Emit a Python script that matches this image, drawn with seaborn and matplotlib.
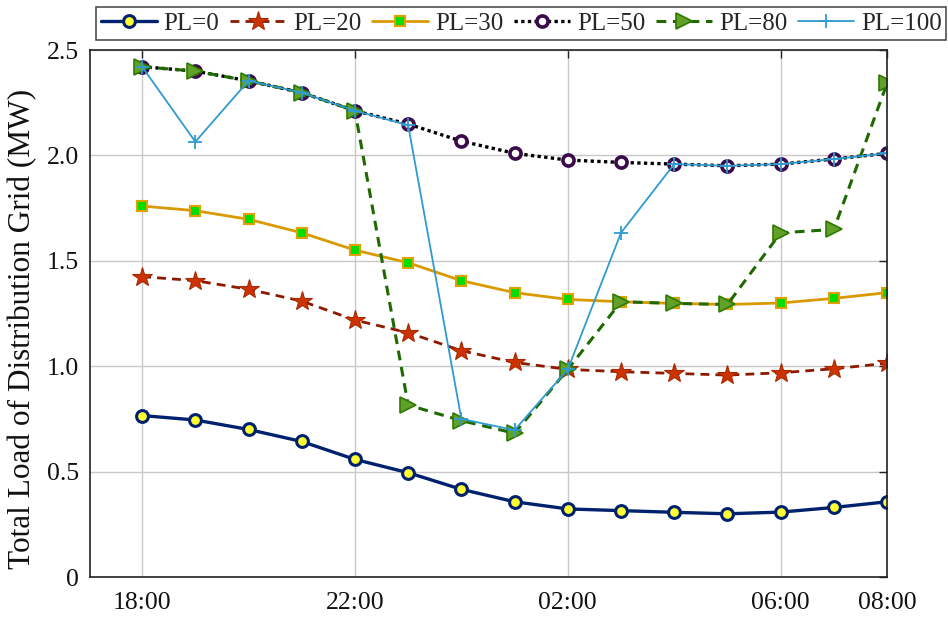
import matplotlib
matplotlib.use("Agg")
import matplotlib.pyplot as plt
import seaborn as sns
import numpy as np
import pandas as pd

hours = ['18:00', '19:00', '20:00', '21:00', '22:00', '23:00', '00:00', '01:00',
         '02:00', '03:00', '04:00', '05:00', '06:00', '07:00', '08:00']
shown_ticks = ['18:00', '22:00', '02:00', '06:00', '08:00']

pl0 = [0.766, 0.745, 0.70, 0.643, 0.558, 0.495, 0.416, 0.357, 0.323, 0.315, 0.307, 0.300, 0.308, 0.330, 0.357]
pl20 = [1.425, 1.406, 1.365, 1.309, 1.219, 1.159, 1.074, 1.018, 0.985, 0.974, 0.966, 0.958, 0.969, 0.988, 1.014]
pl30 = [1.760, 1.738, 1.697, 1.633, 1.551, 1.491, 1.406, 1.349, 1.317, 1.306, 1.298, 1.293, 1.300, 1.322, 1.349]
pl50 = [2.421, 2.400, 2.354, 2.298, 2.212, 2.149, 2.068, 2.010, 1.978, 1.967, 1.959, 1.951, 1.959, 1.983, 2.010]
pl80 = [2.421, 2.400, 2.354, 2.298, 2.212, 0.816, 0.742, 0.682, 0.985, 1.306, 1.298, 1.293, 1.633, 1.649, 2.342]
pl100 = [2.421, 2.065, 2.354, 2.298, 2.212, 2.144, 0.750, 0.697, 0.985, 1.633, 1.959, 1.951, 1.959, 1.983, 2.010]

labels = ['PL=0', 'PL=20', 'PL=30', 'PL=50', 'PL=80', 'PL=100']
series = [pl0, pl20, pl30, pl50, pl80, pl100]

styles = [
    dict(color='#00226e', linestyle='-', linewidth=2.4, marker='o', markersize=8.5,
         markerfacecolor='#ffff33', markeredgecolor='#00226e', markeredgewidth=2.2),
    dict(color='#8b1a00', linestyle=(0, (3.2, 2.2)), linewidth=2.0, marker='*', markersize=15,
         markerfacecolor='#cc3300', markeredgecolor='#a82800', markeredgewidth=0.8),
    dict(color='#d99a00', linestyle='-', linewidth=2.0, marker='s', markersize=7,
         markerfacecolor='#00dd00', markeredgecolor='#e0a000', markeredgewidth=1.5),
    dict(color='#000000', linestyle=(0, (1, 1)), linewidth=2.4, marker='o', markersize=8,
         markerfacecolor='white', markeredgecolor='#3a0a4a', markeredgewidth=2.6),
    dict(color='#1f6a00', linestyle=(0, (3.2, 2.2)), linewidth=2.2, marker='>', markersize=11,
         markerfacecolor='#62a02a', markeredgecolor='#2f7a00', markeredgewidth=1.2),
    dict(color='#2f9bd0', linestyle='-', linewidth=1.3, marker='+', markersize=10,
         markeredgecolor='#2f9bd0', markeredgewidth=1.3),
]

sns.set_theme(style='white')
plt.rcParams['font.family'] = ['Liberation Serif', 'DejaVu Serif']
plt.rcParams['mathtext.fontset'] = 'stix'

fig = plt.figure(figsize=(9.48, 6.18), dpi=100)
ax = fig.add_axes([0.0949, 0.0663, 0.8408, 0.8527])

x = np.arange(len(hours))
for lab, vals, st in zip(labels, series, styles):
    df = pd.DataFrame({'hour': x, 'load': vals})
    sns.lineplot(data=df, x='hour', y='load', ax=ax, label=lab, legend=False, **st)

tick_pos = [hours.index(h) for h in shown_ticks]
ax.set_xticks(tick_pos)
ax.set_xticklabels(shown_ticks)
ax.set_xlim(-0.98, 14)
ax.set_ylim(0, 2.5)
yt = [0, 0.5, 1.0, 1.5, 2.0, 2.5]
ax.set_yticks(yt)
ax.set_yticklabels(['0', '0.5', '1.0', '1.5', '2.0', '2.5'])

ax.grid(True, color='#c8c8c8', linewidth=1.0, linestyle='-')
ax.set_axisbelow(True)
for s in ax.spines.values():
    s.set_color('#222222')
    s.set_linewidth(1.2)
ax.tick_params(direction='in', length=6, width=1.0, top=True, right=True,
               labelsize=18.5, colors='#222222', pad=8)
ax.tick_params(axis='x', pad=11)
for t in ax.get_xticklabels() + ax.get_yticklabels():
    t.set_color('#111111')
ax.set_xlabel('')
ax.set_ylabel('Total Load of Distribution Grid (MW)', fontsize=22.5, color='#111111')
ax.yaxis.set_label_coords(-0.066, 0.47)

handles, labs = ax.get_legend_handles_labels()
leg = fig.legend(handles, labs, loc='upper left', bbox_to_anchor=(0.101, 0.988), ncol=6,
                 frameon=True, fancybox=False, edgecolor='#222222', fontsize=18,
                 handlelength=2.25, handletextpad=0.25, columnspacing=0.45,
                 borderpad=0.2, borderaxespad=0.0)
leg.get_frame().set_linewidth(1.2)

fig.savefig('out.png', dpi=100)
